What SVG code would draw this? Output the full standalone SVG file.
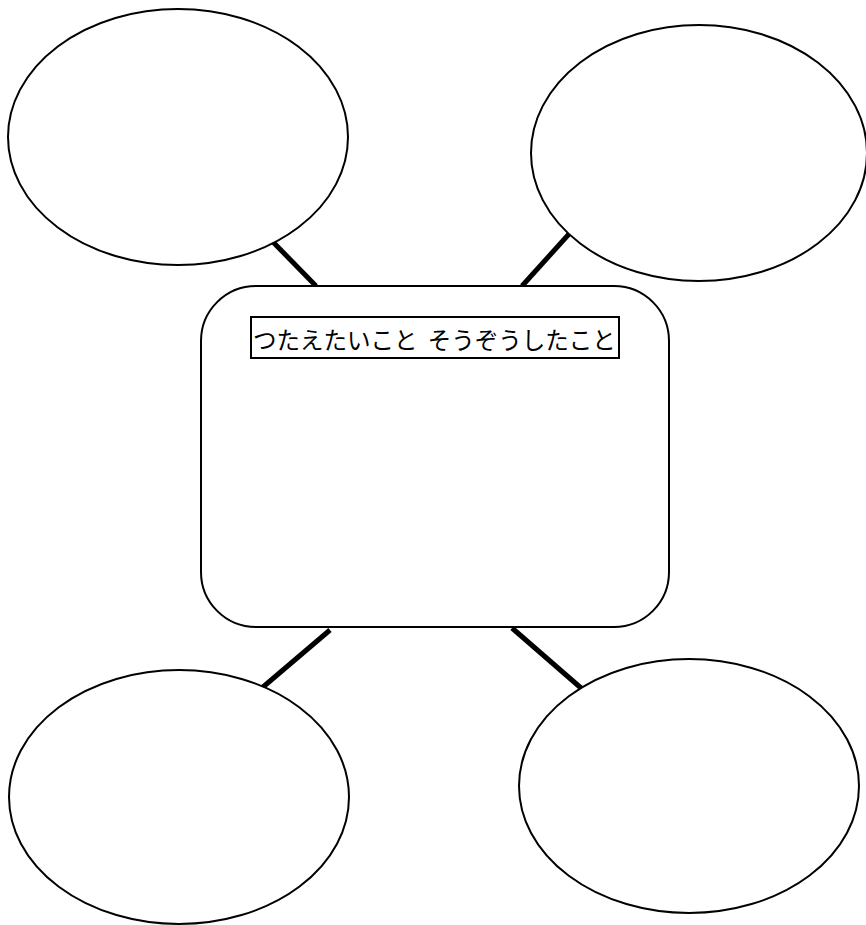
<svg xmlns="http://www.w3.org/2000/svg" width="866" height="925" viewBox="0 0 866 925">
<style>
.bubble{fill:#fff;stroke:#000;stroke-width:2}
.conn{stroke:#000;stroke-width:5;stroke-linecap:butt}
.label{font-family:"Noto Sans CJK JP","Noto Sans CJK SC",sans-serif;font-size:23.5px;fill:#000}
</style>
<rect width="866" height="925" fill="#fff"/>
<g id="connectors">
<line class="conn" x1="273" y1="242" x2="316" y2="286"/>
<line class="conn" x1="569" y1="234" x2="522" y2="286"/>
<line class="conn" x1="330" y1="630" x2="263" y2="687"/>
<line class="conn" x1="512" y1="628" x2="581" y2="688"/>
</g>
<g id="node-tl"><ellipse class="bubble" cx="178" cy="137" rx="170" ry="128"/></g>
<g id="node-tr"><ellipse class="bubble" cx="699" cy="153" rx="168" ry="128"/></g>
<g id="node-bl"><ellipse class="bubble" cx="179" cy="797" rx="170" ry="127"/></g>
<g id="node-br"><ellipse class="bubble" cx="689" cy="786" rx="170" ry="127"/></g>
<g id="node-center">
<rect class="bubble" x="201" y="286" width="468" height="341" rx="55" ry="55"/>
<rect x="251" y="317" width="368" height="41" fill="#fff" stroke="#000" stroke-width="2"/>
<text class="label" x="253" y="339" dominant-baseline="central">つたえたいこと <tspan dx="5">そうぞうしたこと</tspan></text>
</g>
</svg>
